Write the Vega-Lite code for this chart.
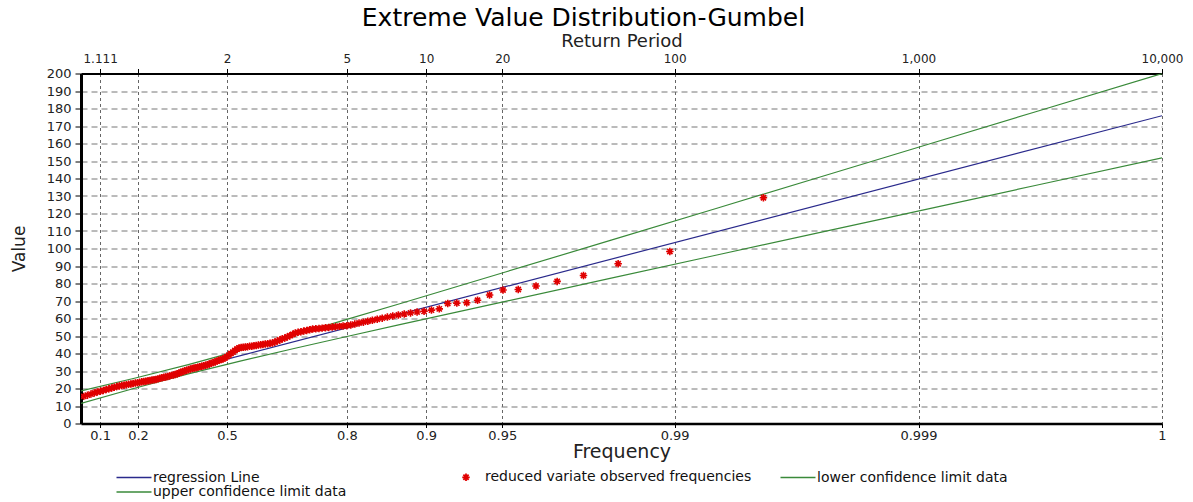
{
  "$schema": "https://vega.github.io/schema/vega-lite/v6.json",
  "width": 1081,
  "height": 350,
  "autosize": {"type": "none"},
  "padding": {"left": 81, "top": 73.5, "right": 31, "bottom": 78.5},
  "background": "white",
  "config": {
    "font": "DejaVu Sans",
    "view": {"stroke": null},
    "axis": {"labelFont": "DejaVu Sans", "titleFont": "DejaVu Sans", "titleFontWeight": "normal", "labelColor": "#222", "titleColor": "#222"}
  },
  "title": {
    "text": "Extreme Value Distribution-Gumbel",
    "font": "DejaVu Sans",
    "fontSize": 25,
    "fontWeight": "normal",
    "color": "#000",
    "anchor": "middle",
    "frame": "group",
    "dx": -38,
    "offset": 2
  },
  "datasets": {
    "lines": [
      {"q": -1.015, "value": 15.03, "series": "regression Line"},
      {"q": 9.2103, "value": 175.88, "series": "regression Line"},
      {"q": -1.015, "value": 18.59, "series": "upper confidence limit data"},
      {"q": -0.5, "value": 25.99, "series": "upper confidence limit data"},
      {"q": 0, "value": 33.65, "series": "upper confidence limit data"},
      {"q": 0.5, "value": 41.92, "series": "upper confidence limit data"},
      {"q": 1, "value": 50.58, "series": "upper confidence limit data"},
      {"q": 1.5, "value": 59.47, "series": "upper confidence limit data"},
      {"q": 2, "value": 68.45, "series": "upper confidence limit data"},
      {"q": 3, "value": 86.57, "series": "upper confidence limit data"},
      {"q": 4, "value": 104.78, "series": "upper confidence limit data"},
      {"q": 5, "value": 123.02, "series": "upper confidence limit data"},
      {"q": 6, "value": 141.28, "series": "upper confidence limit data"},
      {"q": 7, "value": 159.56, "series": "upper confidence limit data"},
      {"q": 8, "value": 177.84, "series": "upper confidence limit data"},
      {"q": 9.2103, "value": 199.97, "series": "upper confidence limit data"},
      {"q": -1.015, "value": 11.47, "series": "lower confidence limit data"},
      {"q": -0.5, "value": 20.29, "series": "lower confidence limit data"},
      {"q": 0, "value": 28.35, "series": "lower confidence limit data"},
      {"q": 0.5, "value": 35.82, "series": "lower confidence limit data"},
      {"q": 1, "value": 42.88, "series": "lower confidence limit data"},
      {"q": 1.5, "value": 49.73, "series": "lower confidence limit data"},
      {"q": 2, "value": 56.47, "series": "lower confidence limit data"},
      {"q": 3, "value": 69.81, "series": "lower confidence limit data"},
      {"q": 4, "value": 83.06, "series": "lower confidence limit data"},
      {"q": 5, "value": 96.28, "series": "lower confidence limit data"},
      {"q": 6, "value": 109.48, "series": "lower confidence limit data"},
      {"q": 7, "value": 122.66, "series": "lower confidence limit data"},
      {"q": 8, "value": 135.84, "series": "lower confidence limit data"},
      {"q": 9.2103, "value": 151.79, "series": "lower confidence limit data"}
    ],
    "pts": [
      {"q": 5.44, "value": 129.0}, {"q": 4.555, "value": 98.3}, {"q": 4.066, "value": 91.3}, {"q": 3.738, "value": 84.6},
      {"q": 3.489, "value": 81.2}, {"q": 3.289, "value": 78.6}, {"q": 3.121, "value": 76.6}, {"q": 2.977, "value": 76.3},
      {"q": 2.85, "value": 73.4}, {"q": 2.736, "value": 70.4}, {"q": 2.634, "value": 69.0}, {"q": 2.54, "value": 68.8},
      {"q": 2.454, "value": 68.6}, {"q": 2.374, "value": 65.5}, {"q": 2.3, "value": 64.8}, {"q": 2.23, "value": 64.1},
      {"q": 2.164, "value": 63.7}, {"q": 2.102, "value": 63.2}, {"q": 2.043, "value": 62.6}, {"q": 1.987, "value": 62.0},
      {"q": 1.934, "value": 61.4}, {"q": 1.883, "value": 60.8}, {"q": 1.834, "value": 60.2}, {"q": 1.787, "value": 59.6},
      {"q": 1.741, "value": 59.0}, {"q": 1.698, "value": 58.4}, {"q": 1.656, "value": 57.9}, {"q": 1.615, "value": 57.4},
      {"q": 1.575, "value": 56.8}, {"q": 1.537, "value": 56.3}, {"q": 1.5, "value": 55.9}, {"q": 1.464, "value": 55.7},
      {"q": 1.429, "value": 55.5}, {"q": 1.394, "value": 55.3}, {"q": 1.361, "value": 55.1}, {"q": 1.329, "value": 54.9},
      {"q": 1.297, "value": 54.7}, {"q": 1.266, "value": 54.5}, {"q": 1.236, "value": 54.3}, {"q": 1.206, "value": 54.1},
      {"q": 1.176, "value": 54.0}, {"q": 1.148, "value": 53.6}, {"q": 1.12, "value": 53.2}, {"q": 1.092, "value": 52.8},
      {"q": 1.065, "value": 52.4}, {"q": 1.038, "value": 52.1}, {"q": 1.012, "value": 51.7}, {"q": 0.986, "value": 50.9},
      {"q": 0.961, "value": 50.2}, {"q": 0.937, "value": 49.5}, {"q": 0.913, "value": 48.8}, {"q": 0.889, "value": 48.4},
      {"q": 0.866, "value": 47.7}, {"q": 0.842, "value": 47.1}, {"q": 0.819, "value": 46.6}, {"q": 0.796, "value": 46.0},
      {"q": 0.773, "value": 45.8}, {"q": 0.751, "value": 45.6}, {"q": 0.728, "value": 45.4}, {"q": 0.706, "value": 45.2},
      {"q": 0.685, "value": 45.0}, {"q": 0.663, "value": 44.8}, {"q": 0.642, "value": 44.6}, {"q": 0.621, "value": 44.4},
      {"q": 0.601, "value": 44.2}, {"q": 0.58, "value": 44.1}, {"q": 0.56, "value": 43.9}, {"q": 0.539, "value": 43.7},
      {"q": 0.519, "value": 43.6}, {"q": 0.5, "value": 43.4}, {"q": 0.48, "value": 43.2}, {"q": 0.461, "value": 42.6},
      {"q": 0.441, "value": 41.7}, {"q": 0.422, "value": 40.8}, {"q": 0.403, "value": 40.0}, {"q": 0.384, "value": 39.1},
      {"q": 0.365, "value": 38.2}, {"q": 0.346, "value": 37.4}, {"q": 0.327, "value": 36.9}, {"q": 0.309, "value": 36.5},
      {"q": 0.29, "value": 36.1}, {"q": 0.272, "value": 35.7}, {"q": 0.253, "value": 35.2}, {"q": 0.235, "value": 34.8},
      {"q": 0.217, "value": 34.4}, {"q": 0.199, "value": 34.0}, {"q": 0.181, "value": 33.6}, {"q": 0.163, "value": 33.3},
      {"q": 0.145, "value": 33.0}, {"q": 0.127, "value": 32.7}, {"q": 0.109, "value": 32.5}, {"q": 0.091, "value": 32.2},
      {"q": 0.073, "value": 31.9}, {"q": 0.055, "value": 31.7}, {"q": 0.038, "value": 31.4}, {"q": 0.02, "value": 31.1},
      {"q": 0.002, "value": 30.8}, {"q": -0.016, "value": 30.4}, {"q": -0.034, "value": 30.1}, {"q": -0.051, "value": 29.7},
      {"q": -0.069, "value": 29.3}, {"q": -0.087, "value": 28.8}, {"q": -0.105, "value": 28.4}, {"q": -0.123, "value": 28.0},
      {"q": -0.141, "value": 27.7}, {"q": -0.159, "value": 27.5}, {"q": -0.177, "value": 27.2}, {"q": -0.195, "value": 26.9},
      {"q": -0.214, "value": 26.6}, {"q": -0.231, "value": 26.4}, {"q": -0.25, "value": 26.1}, {"q": -0.268, "value": 25.8},
      {"q": -0.287, "value": 25.5}, {"q": -0.305, "value": 25.2}, {"q": -0.324, "value": 25.0}, {"q": -0.343, "value": 24.8},
      {"q": -0.362, "value": 24.6}, {"q": -0.381, "value": 24.4}, {"q": -0.401, "value": 24.2}, {"q": -0.42, "value": 24.0},
      {"q": -0.44, "value": 23.8}, {"q": -0.46, "value": 23.6}, {"q": -0.48, "value": 23.3}, {"q": -0.501, "value": 23.1},
      {"q": -0.522, "value": 22.9}, {"q": -0.543, "value": 22.6}, {"q": -0.565, "value": 22.4}, {"q": -0.586, "value": 22.2},
      {"q": -0.608, "value": 21.9}, {"q": -0.63, "value": 21.7}, {"q": -0.653, "value": 21.4}, {"q": -0.677, "value": 21.1},
      {"q": -0.701, "value": 20.7}, {"q": -0.725, "value": 20.3}, {"q": -0.751, "value": 19.8}, {"q": -0.777, "value": 19.4},
      {"q": -0.804, "value": 18.9}, {"q": -0.832, "value": 18.4}, {"q": -0.861, "value": 18.0}, {"q": -0.89, "value": 17.4},
      {"q": -0.921, "value": 16.8}, {"q": -0.954, "value": 16.2}, {"q": -0.989, "value": 15.5}
    ]
  },
  "resolve": {"axis": {"x": "independent", "y": "independent"}},
  "layer": [
    {
      "data": {"name": "lines"},
      "mark": {"type": "line", "strokeWidth": 1.2, "clip": true},
      "encoding": {
        "x": {
          "field": "q", "type": "quantitative",
          "scale": {"domain": [-1.015, 9.2103], "nice": false, "zero": false},
          "axis": {
            "orient": "bottom",
            "values": [-0.834, -0.476, 0.3665, 1.4999, 2.2504, 2.9702, 4.6001, 6.9073, 9.2103],
            "labelExpr": "datum.value < -0.7 ? '0.1' : datum.value < 0 ? '0.2' : datum.value < 1 ? '0.5' : datum.value < 2 ? '0.8' : datum.value < 2.6 ? '0.9' : datum.value < 4 ? '0.95' : datum.value < 5 ? '0.99' : datum.value < 8 ? '0.999' : '1'",
            "title": "Frequency",
            "titleFontSize": 19,
            "titleBaseline": "alphabetic",
            "titleY": 34,
            "labelFontSize": 13,
            "labelPadding": 2,
            "labelFlush": false,
            "labelOverlap": false,
            "tickSize": 4,
            "tickColor": "#000",
            "domainColor": "#000",
            "domainWidth": 2.5,
            "grid": true,
            "gridDash": [3, 3],
            "gridColor": "#666",
            "gridWidth": 1
          }
        },
        "y": {
          "field": "value", "type": "quantitative",
          "scale": {"domain": [0, 200], "nice": false, "zero": true},
          "axis": {
            "values": [0, 10, 20, 30, 40, 50, 60, 70, 80, 90, 100, 110, 120, 130, 140, 150, 160, 170, 180, 190, 200],
            "title": "Value",
            "titleFontSize": 17,
            "titleAngle": -90,
            "titleX": -57,
            "titleY": 175,
            "titleAlign": "center",
            "titleBaseline": "alphabetic",
            "labelFontSize": 13,
            "labelPadding": 4,
            "labelOverlap": false,
            "tickSize": 6,
            "tickColor": "#000",
            "domainColor": "#000",
            "domainWidth": 3,
            "grid": true,
            "gridDash": [6, 4],
            "gridColor": "#777",
            "gridWidth": 1
          }
        },
        "color": {
          "field": "series", "type": "nominal",
          "sort": null,
          "scale": {
            "domain": ["regression Line", "reduced variate observed frequencies", "lower confidence limit data", "upper confidence limit data"],
            "range": ["#2a2a8c", "#e00000", "#3a8a3a", "#3a8a3a"]
          },
          "legend": {
            "orient": "none",
            "direction": "horizontal",
            "legendX": 46,
            "legendY": 396.5,
            "title": null,
            "columns": 3,
            "gridAlign": "all",
            "columnPadding": 25,
            "rowPadding": 0,
            "padding": 0,
            "symbolType": "stroke",
            "symbolSize": 1225,
            "symbolStrokeWidth": 1.3,
            "labelFont": "DejaVu Sans",
            "labelFontSize": 14,
            "labelLimit": 400,
            "labelColor": "#111",
            "labelOffset": 12,
            "encode": {
              "symbols": {
                "update": {
                  "shape": {"signal": "datum.value === 'reduced variate observed frequencies' ? 'M0,-1L0,1M-1,0L1,0M-0.7,-0.7L0.7,0.7M-0.7,0.7L0.7,-0.7' : 'stroke'"},
                  "size": {"signal": "datum.value === 'reduced variate observed frequencies' ? 56 : 1225"},
                  "strokeWidth": {"signal": "datum.value === 'reduced variate observed frequencies' ? 1.8 : 1.3"}
                }
              }
            }
          }
        }
      }
    },
    {
      "data": {"name": "pts"},
      "mark": {"type": "point", "shape": "M0,-1L0,1M-1,0L1,0M-0.7,-0.7L0.7,0.7M-0.7,0.7L0.7,-0.7", "size": 56, "strokeWidth": 1.6, "filled": false, "opacity": 1, "clip": true, "color": "#e00000"},
      "encoding": {
        "x": {
          "field": "q", "type": "quantitative",
          "axis": {
            "orient": "top",
            "values": [-0.834, -0.476, 0.3665, 1.4999, 2.2504, 2.9702, 4.6001, 6.9073, 9.2103],
            "labelExpr": "datum.value < -0.7 ? '1.111' : datum.value < 0 ? '' : datum.value < 1 ? '2' : datum.value < 2 ? '5' : datum.value < 2.6 ? '10' : datum.value < 4 ? '20' : datum.value < 5 ? '100' : datum.value < 8 ? '1,000' : '10,000'",
            "title": "Return Period",
            "titleFontSize": 18,
            "titleBaseline": "alphabetic",
            "titleY": -27,
            "labelFontSize": 12,
            "labelPadding": 3,
            "labelFlush": false,
            "labelOverlap": false,
            "tickSize": 5,
            "tickColor": "#000",
            "domainColor": "#000",
            "domainWidth": 2,
            "grid": false
          }
        },
        "y": {"field": "value", "type": "quantitative", "axis": null}
      }
    }
  ]
}
